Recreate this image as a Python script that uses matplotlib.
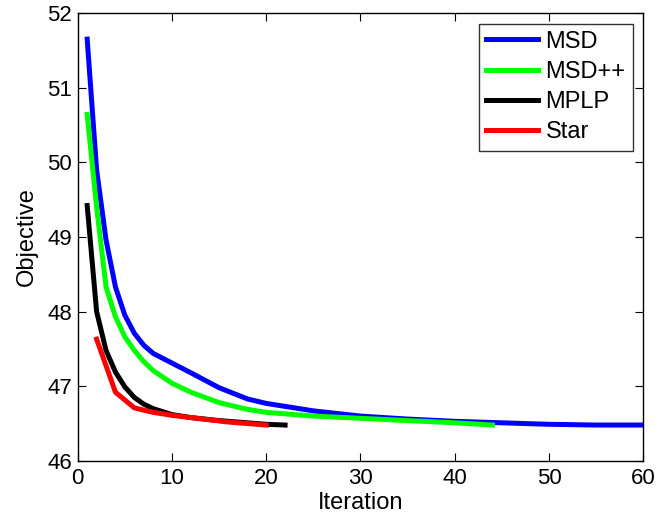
import matplotlib
matplotlib.use("Agg")
import matplotlib.pyplot as plt

plt.rcParams['font.family'] = ['Liberation Sans', 'DejaVu Sans']

msd_x = [1, 2, 3, 4, 5, 6, 7, 8, 10, 12, 15, 18, 20, 25, 30, 35, 40, 45, 50, 55, 60]
msd_y = [51.65, 49.90, 48.96, 48.33, 47.95, 47.71, 47.55, 47.44, 47.31, 47.18, 46.98, 46.83, 46.77, 46.67, 46.60, 46.56, 46.53, 46.51, 46.49, 46.48, 46.48]

msdpp_x = [1, 2, 3, 4, 5, 6, 7, 8, 10, 12, 15, 18, 20, 25, 30, 35, 40, 44]
msdpp_y = [50.64, 49.40, 48.33, 47.93, 47.66, 47.48, 47.33, 47.21, 47.04, 46.92, 46.78, 46.69, 46.65, 46.60, 46.57, 46.54, 46.51, 46.48]

mplp_x = [1, 2, 3, 4, 5, 6, 7, 8, 10, 12, 15, 18, 20, 22]
mplp_y = [49.42, 48.00, 47.48, 47.19, 46.99, 46.85, 46.76, 46.70, 46.62, 46.58, 46.54, 46.51, 46.49, 46.48]

star_x = [2, 4, 6, 8, 10, 12, 14, 16, 18, 20]
star_y = [47.63, 46.92, 46.71, 46.65, 46.61, 46.58, 46.55, 46.52, 46.50, 46.48]

fig = plt.figure(figsize=(6.59, 5.19), dpi=100)
ax = fig.add_axes([0.118, 0.112, 0.858, 0.863])
lw = 3.6
ax.plot(msd_x, msd_y, color='#0000ff', lw=lw, label='MSD')
ax.plot(msdpp_x, msdpp_y, color='#00ff00', lw=lw, label='MSD++')
ax.plot(mplp_x, mplp_y, color='#000000', lw=lw, label='MPLP')
ax.plot(star_x, star_y, color='#ff0000', lw=lw, label='Star')

ax.set_xlim(0, 60)
ax.set_ylim(46, 52)
ax.set_xticks([0, 10, 20, 30, 40, 50, 60])
ax.set_yticks([46, 47, 48, 49, 50, 51, 52])
ax.tick_params(direction='in', top=True, right=True, labelsize=16, length=6)
ax.tick_params(axis='x', pad=5)
ax.tick_params(axis='y', pad=4)
ax.set_xlabel('Iteration', fontsize=17, labelpad=2)
ax.set_ylabel('Objective', fontsize=17, labelpad=7)
for s in ax.spines.values():
    s.set_linewidth(1.0)

leg = ax.legend(loc='upper right', fontsize=17, frameon=True, fancybox=False,
                edgecolor='black', handlelength=2.2, handletextpad=0.3,
                labelspacing=0.35, borderpad=0.3, borderaxespad=0.45)
leg.get_frame().set_linewidth(1.0)

fig.savefig('out.png', dpi=100)
